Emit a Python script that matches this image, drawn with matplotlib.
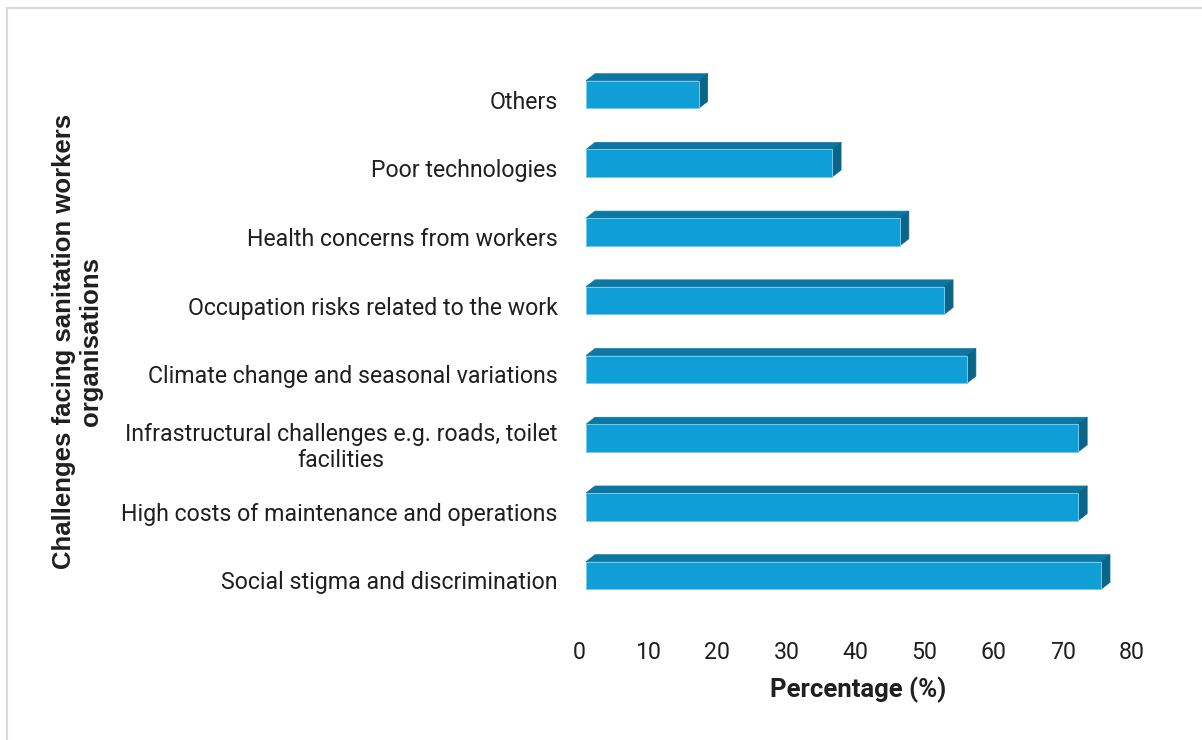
import matplotlib
matplotlib.use("Agg")
import matplotlib.pyplot as plt
from matplotlib.patches import Polygon, Rectangle
from matplotlib.transforms import ScaledTranslation

# Survey results: challenges facing sanitation workers' organisations
categories = [
    "Social stigma and discrimination",
    "High costs of maintenance and operations",
    "Infrastructural challenges e.g. roads, toilet\nfacilities",
    "Climate change and seasonal variations",
    "Occupation risks related to the work",
    "Health concerns from workers",
    "Poor technologies",
    "Others",
]
percentages = [74.5, 71.2, 71.2, 55.1, 51.8, 45.4, 35.6, 16.3]
x_ticks = [0, 10, 20, 30, 40, 50, 60, 70, 80]

W, H, DPI = 1202, 740, 100
FRONT = "#0F9ED5"
TOP = "#0C77A2"
SIDE = "#0A6587"
EDGE = "#7CC8EA"
TEXT = "#1F1F1F"
BODY_FONT = "Roboto"
BODY_SIZE = 16.7

fig = plt.figure(figsize=(W / DPI, H / DPI), dpi=DPI)
fig.patch.set_facecolor("white")

# light grey chart frame (left and top edges visible)
fig.patches.append(Rectangle((7 / W, -0.2), 1.5, (H - 7.5) / H + 0.2,
                             transform=fig.transFigure, fill=False,
                             edgecolor="#D9D9D9", linewidth=1.5))

# plot area in pixels
left_px, right_px, top_px, bottom_px = 586, 1139, 60.15, 609.85
ax = fig.add_axes([left_px / W, (H - bottom_px) / H,
                   (right_px - left_px) / W, (bottom_px - top_px) / H])
xmax = 80
ax.set_xlim(0, xmax)
ax.set_ylim(-0.5, len(categories) - 0.5)

px_x = (right_px - left_px) / xmax
px_y = (bottom_px - top_px) / len(categories)
dx = 9 / px_x          # depth offset of the 3-D faces
dy = 7 / px_y
bar_h = 27.6 / px_y

for i, v in enumerate(percentages):
    y0, y1 = i - bar_h / 2, i + bar_h / 2
    top = Polygon([(0, y1), (dx, y1 + dy), (v + dx, y1 + dy), (v, y1)],
                  closed=True, facecolor=TOP, edgecolor=TOP, lw=0.5,
                  clip_on=False, zorder=2)
    side = Polygon([(v, y0), (v, y1), (v + dx, y1 + dy), (v + dx, y0 + dy)],
                   closed=True, facecolor=SIDE, edgecolor=SIDE, lw=0.5,
                   clip_on=False, zorder=2)
    front = Rectangle((0, y0), v, bar_h, facecolor=FRONT, edgecolor=EDGE,
                      lw=0.7, clip_on=False, zorder=3)
    ax.add_patch(top)
    ax.add_patch(side)
    ax.add_patch(front)

for s in ax.spines.values():
    s.set_visible(False)

ax.set_xticks(x_ticks)
ax.set_xticklabels([str(t) for t in x_ticks], fontsize=BODY_SIZE,
                   fontfamily=BODY_FONT, color=TEXT)
ax.set_yticks(range(len(categories)))
ax.set_yticklabels(categories, fontsize=BODY_SIZE, fontfamily=BODY_FONT,
                   color=TEXT)
ax.tick_params(axis="both", length=0)
ax.tick_params(axis="x", pad=22.5)
ax.tick_params(axis="y", pad=20.5)
for lbl in ax.get_yticklabels():
    lbl.set_multialignment("center")
    lbl.set_transform(lbl.get_transform() +
                      ScaledTranslation(0, -5 / DPI, fig.dpi_scale_trans))
for lbl in ax.get_xticklabels():
    lbl.set_transform(lbl.get_transform() +
                      ScaledTranslation(-7 / DPI, 0, fig.dpi_scale_trans))

fig.text(858 / W, 1 - 690 / H, "Percentage (%)", ha="center", va="center",
         fontsize=18.5, fontweight="bold", fontfamily=BODY_FONT, color=TEXT)
fig.text(77.5 / W, 1 - 341 / H,
         "Challenges facing sanitation workers\norganisations",
         ha="center", va="center", rotation=90, multialignment="center",
         fontsize=18.5, fontweight="bold", fontfamily="Liberation Sans",
         color=TEXT, linespacing=1.15)

fig.savefig("out.png", dpi=DPI, facecolor="white")
